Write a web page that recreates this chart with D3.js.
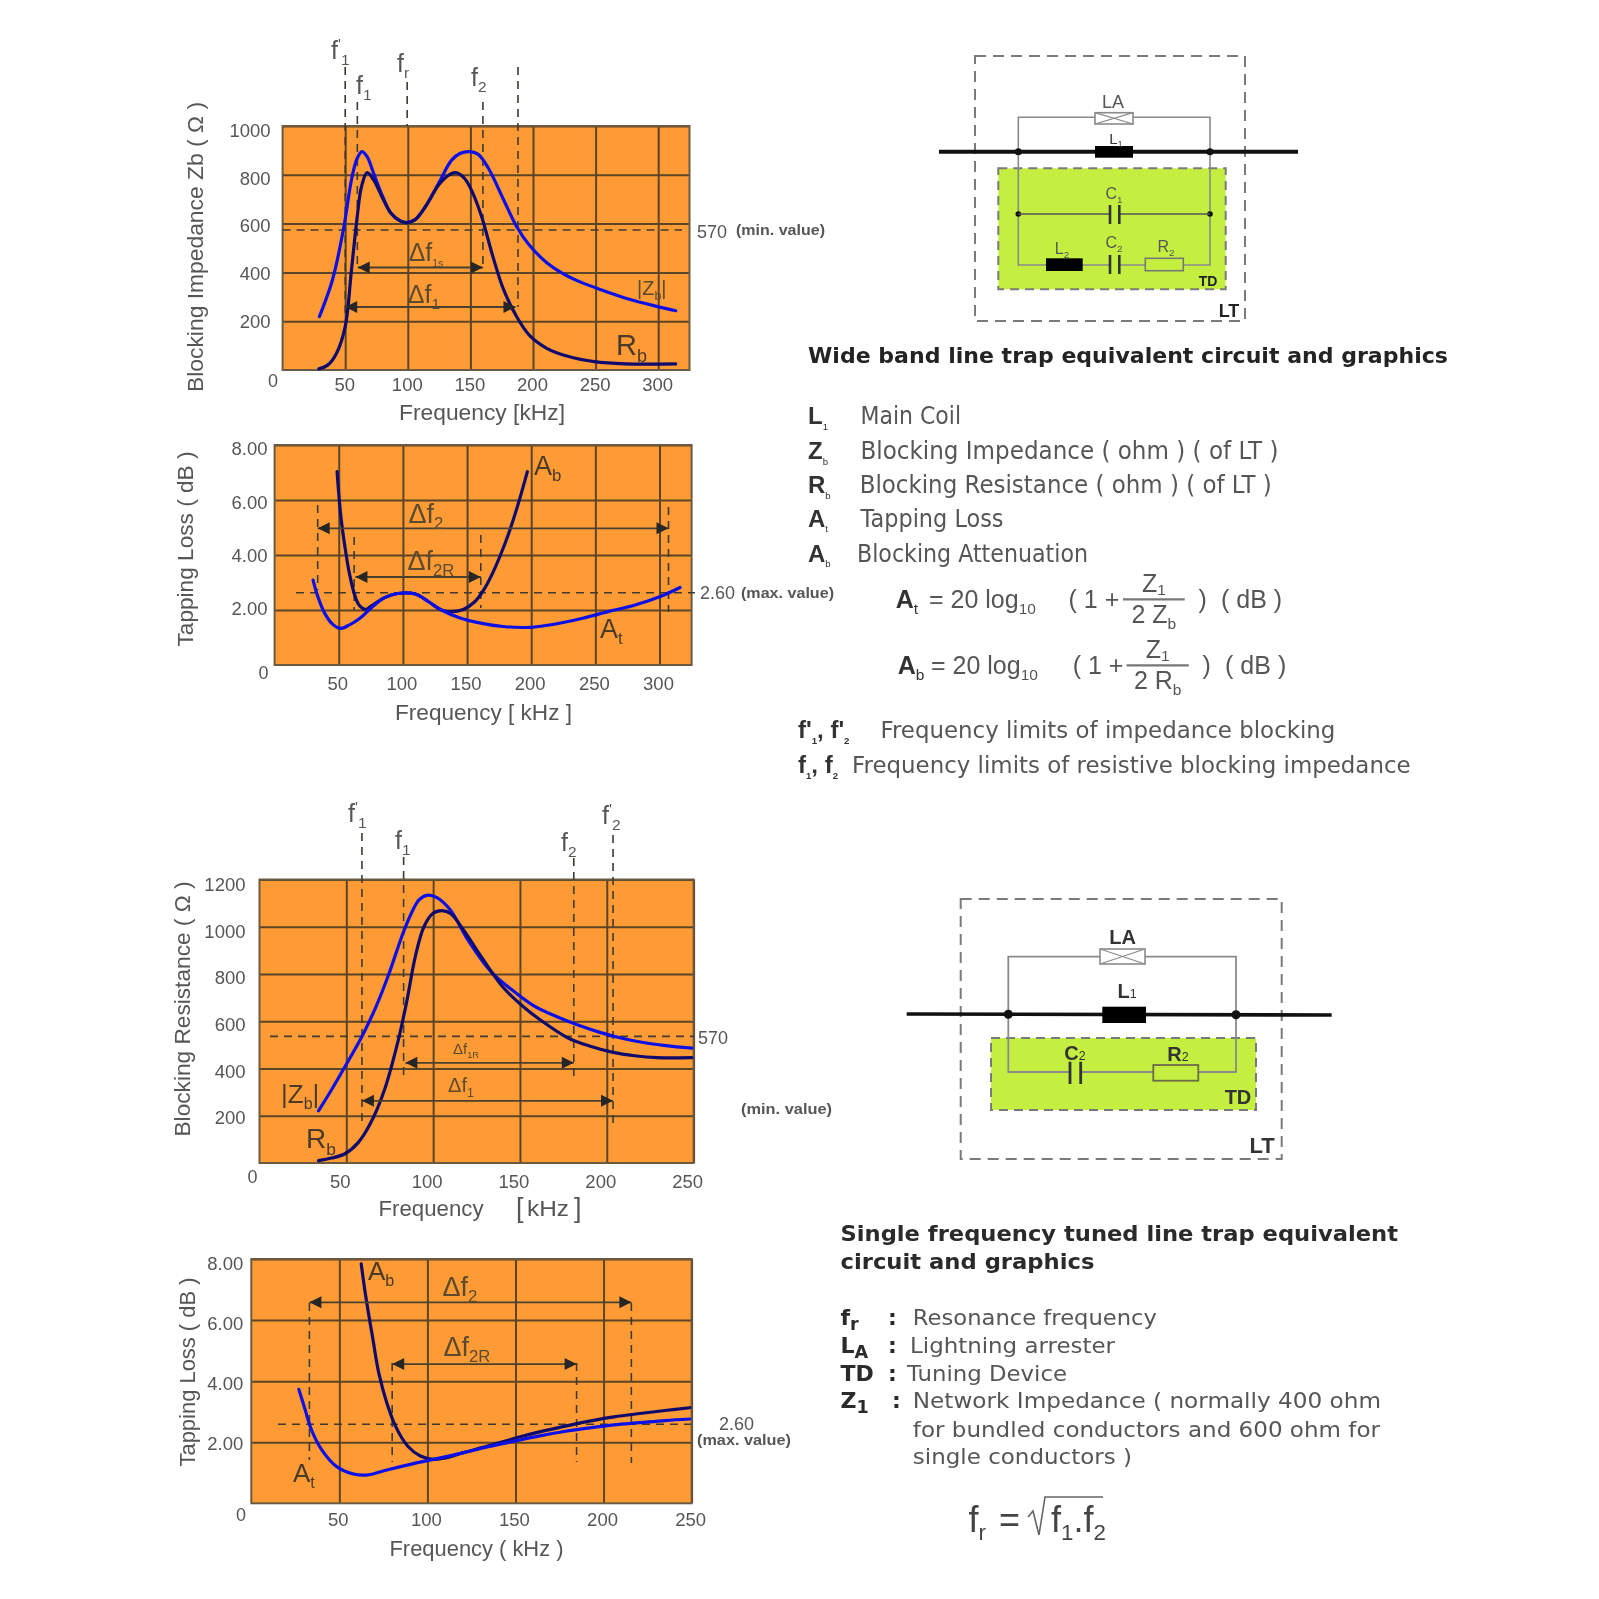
<!DOCTYPE html>
<html><head><meta charset="utf-8">
<script src="https://cdn.jsdelivr.net/npm/d3@7"></script>
<style>html,body{margin:0;padding:0;background:#fff}svg{display:block;filter:blur(.6px)}</style>
</head><body><svg id="c" width="1599" height="1599"></svg>
<script>
// ---------- data ----------
const zb1F=[29.4,39.8,48.5,55.4,59.6,63.4,67.5,72.7,80,86.6,93.5,99,105.6,114,124.6,135,142,149,156,164.5,176.6,187,197,211,225,239,256,277,298,314];
const zb1V=[219,369,574,790,868,895,874,806,710,642,612,604,615,669,765,860,888,895,885,826,697,587,512,440,392,358,326,290,262,243];
const rb1F=[29,36,43,50,55,59.6,63,67.5,72.7,80,86.6,93.5,99,105.6,114,124.6,133,138.5,145.4,152,159,168,176.6,187,197,211,228.5,249,273.5,314];
const rb1V=[5,20,68,178,410,628,751,809,779,703,642,612,604,615,669,758,800,809,785,724,628,464,328,218,143,89,55,34,25,25];
const at2F=[30,33.6,39.4,46,51.4,58,67,75.4,85.7,96,109.7,120,130,144,157.6,178,199,219,240,260,281,301.6,316];
const at2V=[3.09,2.5,1.85,1.45,1.33,1.45,1.72,2.08,2.45,2.6,2.58,2.3,2.0,1.72,1.55,1.4,1.37,1.49,1.7,1.94,2.18,2.51,2.82];
const ab2F=[48.7,51.4,54.8,58.3,62.4,65.8,71,75.4,85.7,96,109.7,120,130,137,147,156,163,171,181.6,190,197];
const ab2V=[7.03,5.5,4.3,3.33,2.55,2.18,2.02,2.15,2.45,2.6,2.58,2.3,2.0,1.94,2.02,2.3,2.73,3.45,4.67,5.88,7.03];
const zb3F=[34,41.5,49,59.3,67,74.5,82,87,92,97,102,110,120,132.7,145,158,171,183,196,208.7,221,234,249];
const zb3V=[221,310,405,540,660,800,960,1050,1115,1134,1124,1070,944,815,735,665,620,585,553,528,510,497,486];
const rb3F=[34,41.5,49,56.7,64,72,79.5,84.6,89.7,94.7,99.8,104.9,110,117.5,127.7,140,153,165.7,178,191,203.6,216,229,249];
const rb3V=[10,21,38,85,169,310,507,676,873,1000,1056,1068,1056,986,873,746,655,585,528,493,468,454,446,446];
const at4F=[27,30.6,34.2,40,48.5,58,66.4,77,91.5,106,120,134.6,149,163,177.6,192,206,220.6,235,249];
const at4V=[3.73,3.06,2.4,1.75,1.2,.96,.93,1.09,1.29,1.47,1.65,1.85,2.03,2.2,2.35,2.47,2.57,2.64,2.71,2.76];
const ab4F=[62.4,65,68.8,72.4,77,82,89,96,103.5,110.7,120,134.6,149,163,177.6,192,206,220.6,235,249];
const ab4V=[7.84,6.77,5.46,4.26,3.28,2.51,1.86,1.55,1.44,1.49,1.65,1.88,2.12,2.33,2.52,2.69,2.83,2.94,3.04,3.13];
const xTicksWide=[50,100,150,200,250,300];
const xTicksNarrow=[50,100,150,200,250];
const yTicksImp=[200,400,600,800,1000];
const yTicksRes=[200,400,600,800,1000,1200];
const yTicksDb=[2,4,6,8];
const wideItems=[["L_{1}","Main Coil"],["Z_{b}","Blocking Impedance ( ohm ) ( of LT )"],["R_{b}","Blocking Resistance ( ohm ) ( of LT )"],["A_{t}","Tapping Loss"],["A_{b}","Blocking Attenuation"]];
const singleItems=[["f_{r}","Resonance frequency"],["L_{A}","Lightning arrester"],["TD","Tuning Device"],["Z_{1}","Network Impedance ( normally 400 ohm"],["","for bundled conductors and 600 ohm for"],["","single conductors )"]];

// ---------- helpers ----------
const svg=d3.select("#c");
const SANS="'Liberation Sans',Arial,sans-serif", VERD="'DejaVu Sans',Verdana,sans-serif";
const GREY="#565656", ORANGE="#ff9b35", GRID="#5b4526", BLUE="#0b10e6", NAVY="#0e0a6e", DARK="#262626", GREEN="#c4ef40";
function rich(x,y,str,o={}){
  const size=o.size||18;
  const t=svg.append("text").attr("x",x).attr("y",y).attr("font-family",o.family||SANS).attr("font-size",size)
    .attr("font-weight",o.weight||"normal").attr("fill",o.fill||GREY).attr("text-anchor",o.anchor||"start");
  if(o.rotate!==undefined) t.attr("transform",`rotate(${o.rotate} ${x} ${y})`);
  const subS=o.subScale||.62, drop=o.subDrop===undefined?.24:o.subDrop, re=/([_^])\{([^}]*)\}|([^_^]+)/g; let m, back=0;
  while((m=re.exec(str))){
    const s=t.append("tspan");
    if(m[3]!==undefined){ s.text(m[3]).attr("dy",back||null); back=0; }
    else{
      const off=(m[1]==="_"?drop:-.42)*size;
      s.text(m[2]).attr("font-size",size*subS).attr("dy",back+off).attr("font-weight",o.subWeight||"normal"); back=-off;
    }
  }
  if(o.fit){ t.attr("textLength",o.fit).attr("lengthAdjust","spacingAndGlyphs"); }
  return t;
}
function chart(cfg){
  const {L,R,T,B}=cfg;
  const x=d3.scaleLinear().domain([0,cfg.xMax]).range([L,R]);
  const y=d3.scaleLinear().domain([0,cfg.yMax]).range([B,T]);
  svg.append("rect").attr("x",L).attr("y",T).attr("width",R-L).attr("height",B-T).attr("fill",ORANGE);
  const gy=svg.append("g").attr("transform",`translate(${L},0)`).call(d3.axisLeft(y).tickValues(cfg.yTicks).tickSize(-(R-L)).tickPadding(cfg.yPad).tickFormat(cfg.yFmt||d3.format("d")));
  const gx=svg.append("g").attr("transform",`translate(0,${B})`).call(d3.axisBottom(x).tickValues(cfg.xTicks).tickSize(-(B-T)).tickPadding(cfg.xPad));
  [gx,gy].forEach(g=>{
    g.select(".domain").remove();
    g.selectAll(".tick line").attr("stroke",GRID).attr("stroke-width",2);
    g.selectAll(".tick text").attr("font-family",SANS).attr("font-size",18.5).attr("fill",GREY);
  });
  const lo=cfg.yTicks[0], hi=cfg.yTicks[cfg.yTicks.length-1];
  const shift=d3.scaleLinear().domain([lo,hi]).range(cfg.yShift);
  gy.selectAll(".tick text").attr("dy","0.32em").attr("transform",d=>`translate(0,${shift(d)})`);
  gx.selectAll(".tick text").attr("dx",cfg.xDx);
  svg.append("rect").attr("x",L).attr("y",T).attr("width",R-L).attr("height",B-T).attr("fill","none").attr("stroke","#6b5a40").attr("stroke-width",2);
  rich(cfg.zero[0],cfg.zero[1],"0",{anchor:"middle"});
  return {x,y};
}
function curve(c,fs,vs,color,w){
  const gen=d3.line().x(d=>c.x(d[0])).y(d=>c.y(d[1])).curve(d3.curveCatmullRom.alpha(.5));
  svg.append("path").attr("d",gen(d3.zip(fs,vs))).attr("fill","none").attr("stroke",color).attr("stroke-width",w||3.2).attr("stroke-linecap","round");
}
function dash(x1,y1,x2,y2,o={}){
  svg.append("line").attr("x1",x1).attr("y1",y1).attr("x2",x2).attr("y2",y2).attr("stroke",o.c||"#3f3a30")
    .attr("stroke-width",o.w||1.6).attr("stroke-dasharray",o.d||"8 6");
}
function arrow(x1,x2,y){
  svg.append("line").attr("x1",x1).attr("x2",x2).attr("y1",y).attr("y2",y).attr("stroke","#4a4030").attr("stroke-width",1.8);
  const h=d3.path(); const a=12,b=6;
  h.moveTo(x1,y);h.lineTo(x1+a,y-b);h.lineTo(x1+a,y+b);h.closePath();
  h.moveTo(x2,y);h.lineTo(x2-a,y-b);h.lineTo(x2-a,y+b);h.closePath();
  svg.append("path").attr("d",h.toString()).attr("fill",DARK);
}

// ---------- chart 1 ----------
const c1=chart({L:282.6,R:689.5,T:126,B:370,xMax:325,yMax:1000,xTicks:xTicksWide,yTicks:yTicksImp,yPad:12,xPad:8,xDx:-1,yShift:[0,4.5],zero:[273,387]});
dash(c1.x(50),67,c1.x(50),313); dash(c1.x(59.7),102,c1.x(59.7),270); dash(c1.x(99.5),82,c1.x(99.5),126);
dash(c1.x(160),102,c1.x(160),267); dash(c1.x(188),67,c1.x(188),307);
dash(c1.x(0),c1.y(574),682,c1.y(574));
curve(c1,zb1F,zb1V,BLUE); curve(c1,rb1F,rb1V,NAVY);
arrow(c1.x(60),c1.x(160),267.5); arrow(c1.x(50),c1.x(186),307);
rich(426,261,"Δf_{1s}",{size:25,anchor:"middle",fill:"#5a4a30",subScale:.42});
rich(424,303,"Δf_{1}",{size:25,anchor:"middle",fill:"#5a4a30"});
rich(331,59,"f^{'}_{1}",{size:25});
rich(356,94,"f_{1}",{size:25});
rich(397,72,"f_{r}",{size:25});
rich(471,86,"f_{2}",{size:25});
rich(616,355,"R_{b}",{size:29,fill:"#4a3a2a"});
rich(637,295,"|Z_{b}|",{size:20,fill:"#5a4a30"});
rich(697,238,"570",{size:18});
rich(736,235,"(min. value)",{size:15,weight:"bold",fit:89});
rich(482,420,"Frequency [kHz]",{size:22,anchor:"middle",fit:166});
rich(203,247,"Blocking Impedance Zb ( Ω )",{size:22,anchor:"middle",rotate:-90,fit:290});

// ---------- chart 2 ----------
const c2=chart({L:274.6,R:691.6,T:445,B:665,xMax:325,yMax:8,xTicks:xTicksWide,yTicks:yTicksDb,yPad:7,xPad:12,xDx:-1.5,yShift:[-1,4],yFmt:d3.format(".2f"),zero:[263.5,679]});
dash(c2.x(33.6),505,c2.x(33.6),590); dash(c2.x(307),507,c2.x(307),612); dash(c2.x(62),537,c2.x(62),610); dash(c2.x(160.7),535,c2.x(160.7),608);
dash(296,c2.y(2.63),695,c2.y(2.63));
curve(c2,ab2F,ab2V,NAVY); curve(c2,at2F,at2V,BLUE);
arrow(c2.x(33.6),c2.x(307),c2.y(4.97)); arrow(c2.x(63),c2.x(160.7),c2.y(3.2));
rich(426,523,"Δf_{2}",{size:27,anchor:"middle",fill:"#5a4a30"});
rich(431,570,"Δf_{2R}",{size:27,anchor:"middle",fill:"#5a4a30"});
rich(534,475,"A_{b}",{size:27,fill:"#4a3a2a"});
rich(600,638,"A_{t}",{size:27,fill:"#4a3a2a"});
rich(700,599,"2.60",{size:18});
rich(741,598,"(max. value)",{size:15,weight:"bold",fit:93});
rich(483.5,720,"Frequency [ kHz ]",{size:22,anchor:"middle",fit:177});
rich(193,549,"Tapping Loss ( dB )",{size:22,anchor:"middle",rotate:-90,fit:195});

// ---------- chart 3 ----------
const c3=chart({L:259.5,R:693.6,T:879.5,B:1163,xMax:250,yMax:1200,xTicks:xTicksNarrow,yTicks:yTicksRes,yPad:14,xPad:12,xDx:-6.5,yShift:[2,5],zero:[252.5,1183]});
dash(c3.x(59),833,c3.x(59),1123); dash(c3.x(83),857,c3.x(83),1080); dash(c3.x(181),858,c3.x(181),1080); dash(c3.x(203.6),835,c3.x(203.6),1125);
dash(270,c3.y(536),694,c3.y(536));
curve(c3,zb3F,zb3V,BLUE); curve(c3,rb3F,rb3V,NAVY);
arrow(c3.x(84),c3.x(181),c3.y(424)); arrow(c3.x(59),c3.x(203.6),c3.y(263));
rich(466,1054,"Δf_{1R}",{size:15,anchor:"middle",fill:"#5a4a30"});
rich(461,1092,"Δf_{1}",{size:20,anchor:"middle",fill:"#5a4a30"});
rich(348,822,"f^{'}_{1}",{size:25});
rich(395,849,"f_{1}",{size:25});
rich(561,851,"f_{2}",{size:25});
rich(602,824,"f^{'}_{2}",{size:25});
rich(281,1103,"|Z_{b}|",{size:26,fill:"#4a3a2a"});
rich(306,1148,"R_{b}",{size:28,fill:"#4a3a2a"});
rich(698,1044,"570",{size:18});
rich(741,1114,"(min. value)",{size:15,weight:"bold",fit:91});
rich(431,1216,"Frequency",{size:22,anchor:"middle",fit:105});
rich(516,1217,"[",{size:27,fill:GREY});
rich(527,1216,"kHz",{size:22,fit:42});
rich(574,1217,"]",{size:27,fill:GREY});
rich(190,1009,"Blocking Resistance ( Ω )",{size:22,anchor:"middle",rotate:-90,fit:255});

// ---------- chart 4 ----------
const c4=chart({L:251.3,R:691.6,T:1259,B:1503.3,xMax:250,yMax:8,xTicks:xTicksNarrow,yTicks:yTicksDb,yPad:8,xPad:10,xDx:-1.5,yShift:[1,5],yFmt:d3.format(".2f"),zero:[241,1521]});
dash(c4.x(33),1303,c4.x(33),1460); dash(c4.x(215.8),1303,c4.x(215.8),1463); dash(c4.x(80),1363,c4.x(80),1462); dash(c4.x(184.7),1363,c4.x(184.7),1462);
dash(278,c4.y(2.59),691,c4.y(2.59));
curve(c4,ab4F,ab4V,NAVY); curve(c4,at4F,at4V,BLUE);
arrow(c4.x(33),c4.x(215.8),c4.y(6.58)); arrow(c4.x(80),c4.x(184.7),c4.y(4.56));
rich(460,1296,"Δf_{2}",{size:27,anchor:"middle",fill:"#5a4a30"});
rich(467,1356,"Δf_{2R}",{size:27,anchor:"middle",fill:"#5a4a30"});
rich(368,1280,"A_{b}",{size:26,fill:"#4a3a2a"});
rich(293,1482,"A_{t}",{size:26,fill:"#4a3a2a"});
rich(736.5,1430,"2.60",{size:18,anchor:"middle"});
rich(744,1445,"(max. value)",{size:15,weight:"bold",anchor:"middle",fit:94});
rich(476.5,1556,"Frequency ( kHz )",{size:22,anchor:"middle",fit:174});
rich(195,1372,"Tapping Loss ( dB )",{size:22,anchor:"middle",rotate:-90,fit:189});

// ---------- circuit helpers ----------
const WIRE="#8a8a8a", OUT="#7a7a7a";
function box(x1,y1,x2,y2,fill,stroke,w,d){
  return svg.append("rect").attr("x",x1).attr("y",y1).attr("width",x2-x1).attr("height",y2-y1).attr("fill",fill).attr("stroke",stroke).attr("stroke-width",w||0).attr("stroke-dasharray",d||null);
}
function seg(x1,y1,x2,y2,c,w){ svg.append("line").attr("x1",x1).attr("y1",y1).attr("x2",x2).attr("y2",y2).attr("stroke",c).attr("stroke-width",w); }
function dot(x,y,r){ svg.append("circle").attr("cx",x).attr("cy",y).attr("r",r).attr("fill","#111"); }
function arrester(x1,y1,x2,y2){
  box(x1,y1,x2,y2,"#fff",WIRE,1.6);
  seg(x1,y1,x2,y2,WIRE,1.2); seg(x1,y2,x2,y1,WIRE,1.2);
}

// ---------- circuit 1 ----------
box(998.3,168.3,1225.7,289.3,GREEN,OUT,2,"9 6");
box(975,56,1245,321,"none",OUT,2,"11 7");
svg.append("path").attr("d","M1018.3 151.7V117.3H1210V265H1018.3Z").attr("fill","none").attr("stroke",WIRE).attr("stroke-width",1.6);
seg(939,151.7,1298,151.7,"#111",4);
arrester(1095,112.7,1133,124);
box(1095,146,1133,157.7,"#000","#000");
dot(1018.3,151.7,3.5);dot(1210,151.7,3.5);dot(1018.3,214,2.8);dot(1210,214,2.8);
seg(1018.3,214,1210,214,"#555",1.6);
box(1109,205,1120,224,GREEN,"none");
seg(1110,205,1110,224,"#333",2.6);seg(1119.3,205,1119.3,224,"#333",2.6);
box(1046,258.3,1082.7,271,"#000","#000");
box(1109,255,1120,274,GREEN,"none");
seg(1110,255,1110,274,"#333",2.6);seg(1119.3,255,1119.3,274,"#333",2.6);
box(1145.3,258.3,1183.3,270.7,GREEN,"#777",1.6);
rich(1113,108,"LA",{size:18,anchor:"middle"});
rich(1116,143.5,"L_{1}",{size:15,anchor:"middle",fill:"#333"});
rich(1114,199,"C_{1}",{size:16,anchor:"middle"});
rich(1114,248,"C_{2}",{size:16,anchor:"middle"});
rich(1062,254,"L_{2}",{size:16,anchor:"middle"});
rich(1166,252,"R_{2}",{size:16,anchor:"middle"});
rich(1208,286,"TD",{size:14,weight:"bold",anchor:"middle",fill:"#222"});
rich(1229,317,"LT",{size:18,weight:"bold",anchor:"middle",fill:"#222"});

// ---------- circuit 2 ----------
box(991,1038,1256,1110,GREEN,OUT,2,"9 6");
box(960.7,899,1281.7,1159,"none",OUT,2,"11 7");
svg.append("path").attr("d","M1008.3 1014V956.7H1236V1072H1008.3Z").attr("fill","none").attr("stroke",WIRE).attr("stroke-width",1.8);
seg(906.7,1014,1331.7,1015,"#111",3.6);
arrester(1100,949,1145,964);
box(1102.3,1006.7,1146,1023,"#000","#000");
dot(1008.3,1014.3,4.5);dot(1236,1014.8,4.5);
box(1071,1061,1080,1085,GREEN,"none");
seg(1070,1061.7,1070,1084,"#333",2.8);seg(1080.7,1061.7,1080.7,1084,"#333",2.8);
box(1153.3,1065,1198.3,1080.7,GREEN,"#6a6a4a",1.8);
rich(1122.7,944,"LA",{size:20,weight:"bold",anchor:"middle",fill:"#333"});
rich(1127,998,"L_{1}",{size:20,weight:"bold",anchor:"middle",fill:"#333",subDrop:0});
rich(1075,1060,"C_{2}",{size:20,weight:"bold",anchor:"middle",fill:"#333",subDrop:0});
rich(1178,1061,"R_{2}",{size:20,weight:"bold",anchor:"middle",fill:"#333",subDrop:0});
rich(1238,1104,"TD",{size:20,weight:"bold",anchor:"middle",fill:"#333"});
rich(1262,1153,"LT",{size:22,weight:"bold",anchor:"middle",fill:"#333"});

// ---------- right-hand text, wide band ----------
rich(808,363,"Wide band line trap equivalent circuit and graphics",{family:VERD,size:21.5,weight:"bold",fill:"#232323",fit:640});
const wideY=[424,459,493,526.7,561.7], wideX=[860.5,860.5,859.7,860.5,857], wideW=[100.5,418,412,143,231];
wideItems.forEach((d,i)=>{
  rich(808,wideY[i],d[0],{size:24,weight:"bold",fill:"#333",subScale:.4});
  rich(wideX[i],wideY[i],d[1],{family:VERD,size:24,fit:wideW[i]});
});
function formula(sym,baseY,symX,eqX,parX,fL,fR,den,closeX){
  rich(symX,baseY,sym,{size:25,weight:"bold",fill:"#333"});
  rich(eqX,baseY,"= 20 log_{10}",{size:25});
  rich(parX,baseY,"( 1 +",{size:25});
  seg(fL,baseY-8.7,fR,baseY-8.7,"#777",2.2);
  rich((fL+fR)/2,baseY-16,"Z_{1}",{size:25,anchor:"middle",subDrop:.1});
  rich((fL+fR)/2,baseY+15,den,{size:25,anchor:"middle"});
  rich(closeX,baseY,")",{size:25});
  rich(closeX+22.6,baseY,"( dB )",{size:25});
}
formula("A_{t}",608,895.7,929,1068.6,1123,1184.7,"2 Z_{b}",1198.4);
formula("A_{b}",674,897.8,931,1072.7,1126.6,1188.8,"2 R_{b}",1202.5);
rich(798,738,"f'_{1}, f'_{2}",{size:24,weight:"bold",fill:"#333",subScale:.4,subWeight:"bold"});
rich(880.4,738,"Frequency limits of impedance blocking",{family:VERD,size:23,fit:455});
rich(798,773,"f_{1}, f_{2}",{size:24,weight:"bold",fill:"#333",subScale:.4,subWeight:"bold"});
rich(852,773,"Frequency limits of resistive blocking impedance",{family:VERD,size:23,fit:558.6});

// ---------- right-hand text, single frequency ----------
rich(840.5,1240.7,"Single frequency tuned line trap equivalent",{family:VERD,size:21,weight:"bold",fill:"#2a2a2a",fit:557.5});
rich(840.5,1269.3,"circuit and graphics",{family:VERD,size:21,weight:"bold",fill:"#2a2a2a",fit:254});
const singleY=[1325,1352.7,1380.7,1408,1436.7,1464], singleX=[912.8,910,907,912.8,912.8,912.8], singleW=[244.2,205,160,468.2,467.2,219.2], colonX=[888,888,888,892];
singleItems.forEach((d,i)=>{
  if(d[0]){
    rich(840.5,singleY[i],d[0],{family:VERD,size:22,weight:"bold",fill:"#2a2a2a",subScale:.8,subWeight:"bold"});
    rich(colonX[i],singleY[i],":",{family:VERD,size:22,weight:"bold",fill:"#2a2a2a"});
  }
  rich(singleX[i],singleY[i],d[1],{family:VERD,size:21,fit:singleW[i]});
});
rich(968.5,1531.7,"f_{r}",{size:36,fill:"#444"});
rich(999,1531.7,"=",{size:36,fill:"#444"});
svg.append("path").attr("d","M1028 1517L1033 1511L1039 1535L1045 1497H1103").attr("fill","none").attr("stroke","#666").attr("stroke-width",1.6);
rich(1051,1531.7,"f_{1}.f_{2}",{size:36,fill:"#444"});
</script></body></html>
